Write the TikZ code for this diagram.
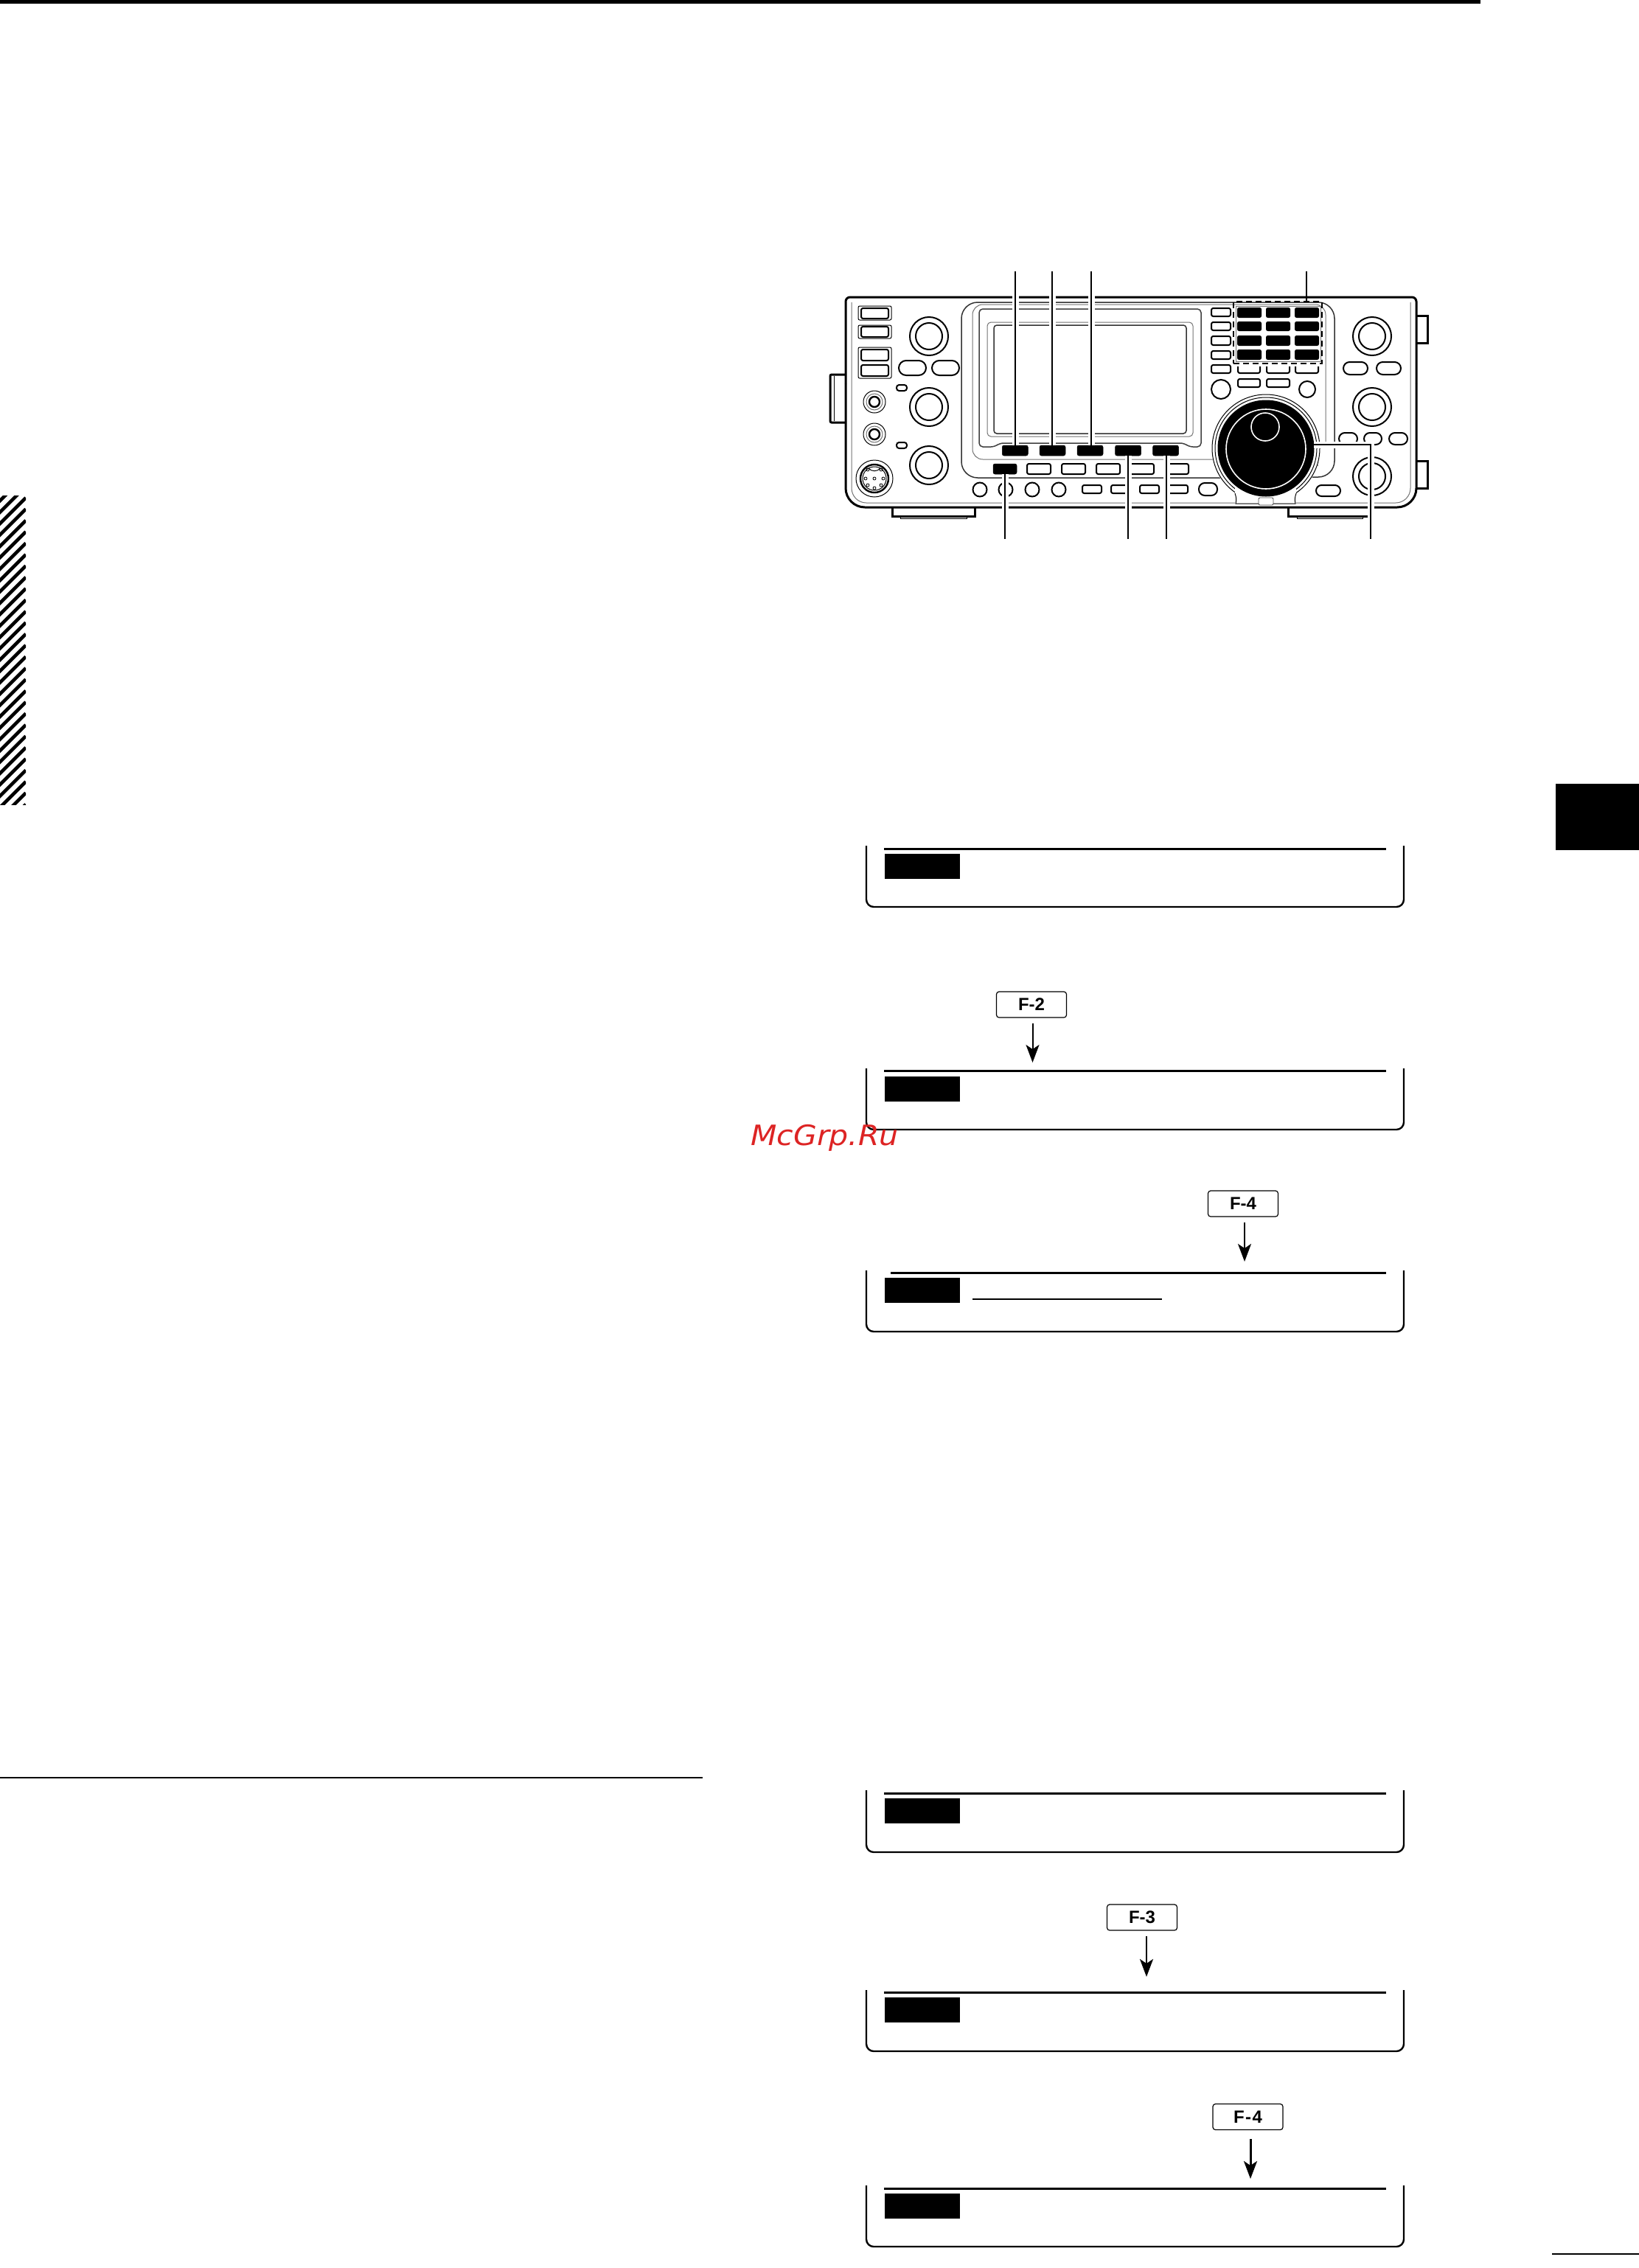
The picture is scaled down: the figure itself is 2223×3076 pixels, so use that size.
\documentclass[tikz,border=0pt]{standalone}
\usepackage{fontspec}
\setmainfont{Liberation Sans}
\newfontfamily\wmfont{DejaVu Sans}
\usetikzlibrary{arrows.meta}
\definecolor{wmred}{RGB}{221,36,36}
\tikzset{
  x=1pt,y=-1pt,
  thick line/.style={line width=3pt,black},
  ctl/.style={line width=2pt,black,rounded corners=2.5pt},
  pill/.style={line width=2pt,black,rounded corners=7pt},
  thin line/.style={line width=1pt,black},
  grey line/.style={line width=1pt,black!55},
  black key/.style={fill=black,draw=black,line width=.5pt,rounded corners=2.5pt,inner sep=0pt,minimum width=#1},
  black key/.default=35pt,
  leader/.style={line width=2.6pt,black,preaction={draw=white,line width=9pt}},
  fkey/.style={draw=black,line width=1.2pt,rounded corners=3.5pt,inner sep=0pt,minimum width=95pt,minimum height=35pt,font=\fontsize{24}{24}\selectfont\bfseries},
  down arrow/.style={line width=2pt,black,shorten <=7pt,-{Stealth[length=24pt,width=18pt,inset=6pt]}},
  box line/.style={line width=2.4pt,black},
  tag/.style={fill=black,inner sep=0pt,minimum width=102pt,anchor=north west},
}
\begin{document}
\begin{tikzpicture}
\useasboundingbox (0,0) rectangle (2223,3076);
\fill[white] (0,0) rectangle (2223,3076);

% page furniture
\fill[black] (0,0) rectangle (2008,5);
\fill[black] (2110,1063) rectangle (2223,1153);
\begin{scope}
  \clip (0,672) rectangle (35,1091);
  \foreach \k in {-2,...,29} {
    \draw[line width=4.6pt,black] (35,675+15.4*\k) -- (-5,715+15.4*\k);
  }
\end{scope}
\draw[line width=2pt,black] (0,2411) -- (953,2411);
\draw[line width=2pt,black] (2105,3057) -- (2223,3057);

% ------------ radio body
\draw[thick line,rounded corners=6pt] (1147,520) -- (1147,403) -- (1921,403) -- (1921,520);
\draw[thick line,rounded corners=26pt] (1147,520) -- (1147,688) -- (1921,688) -- (1921,520);
\draw[grey line,rounded corners=20pt] (1155,410) -- (1155,682) -- (1913,682) -- (1913,410);
\draw[thick line,rounded corners=2pt] (1147,508) -- (1126,508) -- (1126,573) -- (1147,573);
\draw[thin line] (1131,510) -- (1131,571);
\draw[thick line] (1921,428) -- (1936,428) -- (1936,465) -- (1921,465);
\draw[thick line] (1921,625) -- (1936,625) -- (1936,662) -- (1921,662);
\draw[thick line] (1210,688) -- (1210,700) -- (1322,700) -- (1322,688);
\draw[thin line] (1221,700) -- (1221,703) -- (1311,703) -- (1311,700);
\draw[thick line] (1747,688) -- (1747,700) -- (1860,700) -- (1860,688);
\draw[thin line] (1759,700) -- (1759,703) -- (1848,703) -- (1848,700);

% panels
\draw[line width=1.5pt,black!80,rounded corners=22pt] (1660,648) -- (1304,648) -- (1304,410) -- (1810,410) -- (1810,647) -- (1770,647);
\draw[grey line,rounded corners=14pt] (1660,623) -- (1319,623) -- (1319,413) -- (1798,413) -- (1798,600);
\draw[line width=1.5pt,black!75,rounded corners=5pt] (1328,419) -- (1629,419) -- (1629,606) -- (1613,606) -- (1606,601) -- (1356,601) -- (1349,606) -- (1328,606) -- cycle;
\draw[grey line,rounded corners=5pt] (1339,437) rectangle (1618,592);
\draw[line width=1.5pt,black!80,rounded corners=4pt] (1348,441) rectangle (1609,588);
\draw[line width=1pt,black] (1790,612) -- (1787,632);

% left column keys
\foreach \a/\b in {415/434,441/459,471/513} \draw[thin line,rounded corners=2pt] (1164,\a) rectangle (1209,\b);
\foreach \a/\b in {418/432,443/457,474/489,495/510} \draw[ctl] (1168,\a) rectangle (1205,\b);
\foreach \a/\b in {1219/1256,1264/1301} \draw[line width=2pt,rounded corners=10pt] (\a,489) rectangle (\b,509);
\foreach \y in {522,600} \draw[line width=2pt,rounded corners=3.5pt] (1216,\y) rectangle (1230,\y+8);
% large knobs
\foreach \cx/\cy in {1260/456,1260/552,1260/631,1861/456,1861/552,1861/646} {
  \draw[line width=2pt] (\cx,\cy) circle[radius=26];
  \draw[line width=2pt] (\cx,\cy) circle[radius=18];
}
% jacks
\foreach \cy in {545,589} {
  \draw[thin line] (1186,\cy) circle[radius=15];
  \draw[grey line] (1186,\cy) circle[radius=11];
  \draw[line width=2.4pt] (1186,\cy) circle[radius=7];
}
% mic socket
\draw[thin line] (1186,649) circle[radius=25];
\draw[line width=2.4pt] (1186,649) circle[radius=19];
\draw[thin line] (1186,649) circle[radius=16];
\draw[thin line] (1178,635) .. controls (1182,640) and (1190,640) .. (1194,635);
\foreach \px/\py in {1177/637,1195/637,1174/649,1198/649,1177/658,1195/658,1186/662,1186/649}
  \draw[line width=.8pt] (\px,\py) circle[radius=2];

% row 2 white keys
\foreach \a/\b in {1393/1425,1440/1472,1487/1519,1530/1565,1580/1612} \draw[ctl] (\a,629) rectangle (\b,643);
% row 3 round keys
\foreach \cx in {1329,1364,1400,1436} \draw[line width=2pt] (\cx,664) circle[radius=9.5];
\foreach \a/\b in {1468/1494,1507/1533,1546/1572,1581/1611} \draw[ctl] (\a,658) rectangle (\b,669);
\draw[line width=2pt,rounded corners=8pt] (1626,655) rectangle (1651,672);
\draw[line width=2pt,rounded corners=7.5pt] (1785,658) rectangle (1818,673);
% right side ovals
\foreach \a/\b in {1822/1855,1867/1900} \draw[line width=2pt,rounded corners=8.5pt] (\a,491) rectangle (\b,508);
\foreach \a/\b in {1816/1841,1850/1874,1884/1909} \draw[line width=2pt,rounded corners=8pt] (\a,587) rectangle (\b,603);
% keypad block
\foreach \a/\b in {418/429,437/448,456/468,476/487,495/506} \draw[ctl] (1643,\a) rectangle (1669,\b);
\foreach \a/\b in {1679/1709,1718/1749,1757/1788} {
  \draw[ctl] (\a,497) -- (\a,506) -- (\b,506) -- (\b,497);
}
\foreach \a/\b in {1679/1709,1718/1749} \draw[ctl] (\a,514) rectangle (\b,525);
\draw[line width=2pt] (1656,528) circle[radius=13];
\draw[line width=2pt] (1773,528) circle[radius=11];
\draw[grey line] (1676,415) rectangle (1791,490);
\foreach \a/\b in {1678/1711,1717/1750,1756/1789}
  \foreach \c/\d in {417/431,436/449,455/469,474/488}
    \fill[black,rounded corners=2.5pt] (\a,\c) rectangle (\b,\d);
\node[draw=black,line width=2.4pt,dash pattern=on 8pt off 5pt,minimum width=120pt,minimum height=84pt,inner sep=0pt] (pad) at (1733,451) {};

% main dial
\fill[white] (1717,608) circle[radius=74];
\draw[thin line] (1717,608) circle[radius=73];
\draw[thin line] (1717,608) circle[radius=69];
\fill[white] (1675,655) -- (1675,683) -- (1758,683) -- (1758,655) -- cycle;
\draw[thin line] (1675,669) .. controls (1677,675) and (1677,678) .. (1676,683) -- (1757,683) .. controls (1756,678) and (1756,675) .. (1758,669);
\fill[black] (1717,608) circle[radius=65.5];
\draw[white,line width=1.6pt] (1717,609) circle[radius=54];
\draw[white,line width=1.6pt] (1716,579) circle[radius=19];
\fill[white,draw=black!70,line width=.8pt,rounded corners=2pt] (1707,675) rectangle (1727,685);
\node[inner sep=0pt,minimum size=0pt] (dial) at (1782,603) {};

% black keys with leaders
\node[black key,minimum height=14pt] (k1) at (1376.75,611) {};
\node[black key,minimum height=14pt] (k2) at (1427.5,611) {};
\node[black key,minimum height=14pt] (k3) at (1478.5,611) {};
\node[black key,minimum height=14pt] (k4) at (1530,611) {};
\node[black key,minimum height=14pt] (k5) at (1581,611) {};
\node[black key=32pt,minimum height=14pt] (k6) at (1363,636) {};

\coordinate (l1) at (1377,368);
\coordinate (l2) at (1427,368);
\coordinate (l3) at (1480,368);
\coordinate (l4) at (1772,368);
\coordinate (l5) at (1363,731);
\coordinate (l6) at (1530,731);
\coordinate (l7) at (1582,731);
\coordinate (l8) at (1859,731);
\draw[leader] (l1) -- (l1 |- k1.north);
\draw[leader] (l2) -- (l2 |- k2.north);
\draw[leader] (l3) -- (l3 |- k3.north);
\draw[line width=2.6pt,black] (l4) -- (l4 |- pad.north);
\draw[leader] (l5) -- (l5 |- k6.south);
\draw[leader] (l6) -- (l6 |- k4.south);
\draw[leader] (l7) -- (l7 |- k5.south);
\draw[leader] (l8) |- (dial.center);

% ------------ display boxes
\foreach \rule/\top/\bot/\tagtop/\start in {1151/1147/1230/1158/1199,1452/1449/1532/1460/1199,1726/1723/1806/1733/1208,2432/2428/2512/2439/1199,2702/2699/2782/2709/1199,2968/2964/3047/2975/1199} {
  \draw[box line,rounded corners=10pt] (1175,\top) -- (1175,\bot) -- (1904,\bot) -- (1904,\top);
  \draw[line width=3pt,black] (\start,\rule) -- (1880,\rule);
  \node[tag,minimum height=33.5pt] at (1200,\tagtop) {};
}
\draw[line width=1.5pt,black] (1319,1762) -- (1576,1762);

% F keys and arrows
\node[fkey] (f2) at (1399,1362.5) {F-2};
\coordinate (t2) at (1400.5,1441);
\draw[down arrow] (t2 |- f2.south) -- (t2);
\node[fkey] (f4) at (1686,1632.5) {F-4};
\coordinate (t4) at (1688,1711);
\draw[down arrow] (t4 |- f4.south) -- (t4);
\node[fkey] (f3) at (1549,2600.5) {F-3};
\coordinate (t3) at (1555,2681);
\draw[down arrow,line width=2.6pt] (t3 |- f3.south) -- (t3);
\node[fkey] (f5) at (1692.5,2871) {F\kern1.5pt-\kern1.5pt4};
\coordinate (t5) at (1696,2955);
\draw[down arrow,line width=3pt,shorten <=12pt] (t5 |- f5.south) -- (t5);

% watermark
\node[anchor=base west,inner sep=0pt,text=wmred,font=\wmfont\itshape\fontsize{38}{38}\selectfont,xscale=1.08] (wm) at (1018,1553) {McGrp.Ru};
\end{tikzpicture}
\end{document}
